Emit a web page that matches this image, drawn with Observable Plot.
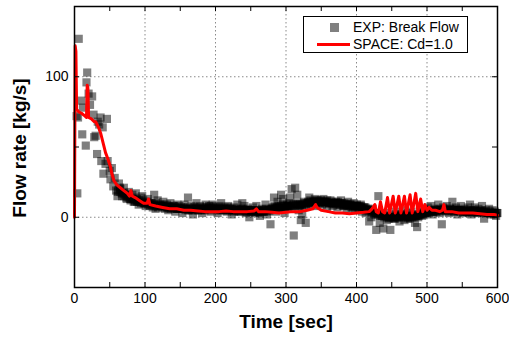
<!DOCTYPE html>
<html>
<head>
<meta charset="utf-8">
<script src="https://cdn.jsdelivr.net/npm/d3@7"></script>
<script src="https://cdn.jsdelivr.net/npm/@observablehq/plot@0.6"></script>
<style>
  html, body { margin: 0; padding: 0; background: #fff; }
  #wrap { position: relative; width: 509px; height: 342px; font-family: "Liberation Sans", Arial, sans-serif; }
  #legend { position: absolute; left: 303px; top: 16px; width: 163px; height: 35px; border: 1px solid #000; background: #fff; font-size: 14px; color: #000; }
  .row { position: absolute; left: 0; height: 18px; line-height: 18px; white-space: nowrap; }
  .sw-sq { position: absolute; left: 26px; top: 5px; width: 9px; height: 9px; background: #808080; }
  .sw-ln { position: absolute; left: 13px; top: 8px; width: 33px; height: 3px; background: #ff0000; }
  .lab { position: absolute; left: 49px; top: 0; }
  #ytitle { position: absolute; left: 19px; top: 148px; transform: translate(-50%, -50%) rotate(-90deg); white-space: nowrap; font-weight: bold; font-size: 19px; line-height: 1; color: #000; }
</style>
</head>
<body>
<div id="wrap"></div>
<script>
// ---- data ----
// EXP: Break Flow — scattered measurements
const expT = [3,4,5,6,10,11,12,16,17,18,20,22,25,27,28,30,32,33,35,37,38,40,41,44,46,47,50,51,53,55,57,59,61,63,65,67,70,72,74,77,79,82,84,87,89,91,94,96,99,
101,104,106,108,111,113,115,118,120,123,126,128,131,133,136,138,141,143,146,148,151,153,156,158,161,163,166,168,171,173,176,178,181,183,186,188,191,193,196,198,
201,203,206,208,211,213,216,218,221,223,226,228,231,233,236,238,241,243,246,248,251,253,256,258,261,263,266,268,271,273,276,278,281,283,286,288,291,293,296,298,
301,303,306,308,311,313,316,318,321,323,326,328,331,333,336,338,341,343,346,348,351,353,356,358,361,363,366,368,371,373,376,378,381,383,386,388,391,393,396,398,
401,403,406,408,411,413,416,418,421,423,426,428,431,433,436,438,441,443,446,448,451,453,456,458,461,463,466,468,471,473,476,478,481,483,486,488,491,493,496,498,
501,503,506,508,511,513,516,518,521,523,526,528,531,533,536,538,541,543,546,548,551,553,556,558,561,563,566,568,571,573,576,578,581,583,586,588,591,593,596,598,600];
const expV = [72,17,71,127,83,59,78,51,96,103,88,80,86,73,57,58,45,68,66,71,40,64,31,38,70,40,33,27,35,22,28,19,15,24,20,17,21,16,13,18,13,16,11,17,12,9,14,15,10,
8,13,10,10,7,16,6,12,9,8,11,6,9,5,10,7,8,4,9,6,7,3,9,6,14,5,8,2,7,10,5,8,3,7,9,5,8,4,9,6,
7,3,8,10,5,7,4,8,6,2,7,5,9,4,6,10,8,3,6,0,5,7,3,8,5,1,6,4,9,2,5,-5,7,14,4,11,6,16,13,3,
9,7,14,20,-13,21,16,5,-2,2,8,-4,10,14,9,11,13,8,12,10,9,13,11,7,10,12,8,10,11,7,9,12,8,10,6,11,9,7,10,5,
8,6,9,4,7,3,5,-3,0,6,2,-9,15,-4,1,-8,3,-2,0,-9,2,-1,4,0,-3,2,5,-2,1,3,-1,4,0,-4,-7,2,4,1,6,3,
7,5,8,2,6,4,9,3,-5,7,5,8,3,6,11,4,7,2,5,8,3,6,4,7,9,2,5,7,3,6,4,8,-1,5,3,6,2,5,4,1,3];
// EXP: additional measurements in the dense band, [time, flow]
const expBand = [
[61.5,18],[64.5,21],[67.5,15],[70.5,17],[73.5,14],[76.5,16],[79.5,12],[82.5,14],[85.5,11],[88.5,13],[91.5,12],[94.5,10],[97.5,12],
[100.5,10],[103.5,11],[106.5,8],[109.5,10],[112.5,9],[115.5,10],[118.5,7],[121.5,9],[124.5,8],[127.5,9],[130.5,7],[133.5,8],[136.5,6],[139.5,8],
[142.5,7],[145.5,6],[148.5,8],[151.5,6],[154.5,7],[157.5,5],[160.5,7],[163.5,6],[166.5,5],[169.5,7],[172.5,6],[175.5,5],[178.5,7],[181.5,6],
[184.5,5],[187.5,7],[190.5,6],[193.5,8],[196.5,7],[199.5,5],[202.5,6],[205.5,7],[208.5,5],[211.5,6],[214.5,5],[217.5,7],[220.5,5],[223.5,6],
[226.5,4],[229.5,6],[232.5,5],[235.5,4],[238.5,6],[241.5,5],[244.5,4],[247.5,5],[250.5,4],[253.5,5],[256.5,4],[259.5,5],[262.5,3],[265.5,5],
[268.5,4],[271.5,6],[274.5,4],[277.5,5],[280.5,6],[283.5,8],[286.5,6],[289.5,8],[292.5,7],[295.5,9],[298.5,6],[301.5,8],[304.5,10],[307.5,7],
[310.5,9],[313.5,8],[316.5,10],[319.5,8],[322.5,9],[325.5,11],[328.5,9],[331.5,11],[334.5,12],[337.5,10],[340.5,11],[343.5,12],[346.5,10],
[349.5,12],[352.5,11],[355.5,10],[358.5,12],[361.5,10],[364.5,11],[367.5,9],[370.5,10],[373.5,11],[376.5,9],[379.5,10],[382.5,8],[385.5,9],
[388.5,8],[391.5,9],[394.5,7],[397.5,8],[400.5,9],[403.5,7],[406.5,8],[409.5,6],[412.5,7],[415.5,5],[418.5,4],[421.5,5],[424.5,3],[427.5,2],
[430.5,3],[433.5,1],[436.5,2],[439.5,0],[442.5,1],[445.5,-1],[448.5,1],[451.5,0],[454.5,-1],[457.5,1],[460.5,0],[463.5,2],[466.5,0],[469.5,1],
[472.5,-1],[475.5,1],[478.5,0],[481.5,2],[484.5,1],[487.5,0],[490.5,2],[493.5,3],[496.5,2],[499.5,4],[502.5,3],[505.5,5],[508.5,4],[511.5,5],
[514.5,4],[517.5,6],[520.5,5],[523.5,6],[526.5,4],[529.5,5],[532.5,6],[535.5,5],[538.5,4],[541.5,6],[544.5,5],[547.5,4],[550.5,5],[553.5,4],
[556.5,5],[559.5,3],[562.5,5],[565.5,4],[568.5,5],[571.5,3],[574.5,4],[577.5,5],[580.5,3],[583.5,4],[586.5,3],[589.5,4],[592.5,3],[595.5,2],[598.5,3]];
// EXP: further measurements along the band core, [time, flow]
const expCore = [
[62,19],[65,18],[68,17],[71,15],[74,15],[77,14],[80,13],[83,13],[86,12],[89,11],[92,11],[95,11],[98,10],[101,10],[104,9],[107,9],[110,9],
[113,8],[116,8],[119,8],[122,8],[125,7],[128,8],[131,7],[134,7],[137,7],[140,6],[143,7],[146,6],[149,6],[152,6],[155,6],[158,6],[161,5],
[164,6],[167,6],[170,5],[173,6],[176,6],[179,5],[182,6],[185,6],[188,6],[191,7],[194,6],[197,6],[200,6],[203,6],[206,5],[209,6],[212,6],
[215,6],[218,5],[221,6],[224,5],[227,5],[230,5],[233,5],[236,5],[239,5],[242,5],[245,4],[248,5],[251,5],[254,4],[257,4],[260,4],[263,4],
[266,4],[269,5],[272,5],[275,5],[278,6],[281,6],[284,7],[287,7],[290,7],[293,8],[296,7],[299,8],[302,8],[305,8],[308,8],[311,9],[314,9],
[317,9],[320,9],[323,9],[326,10],[329,10],[332,10],[335,11],[338,11],[341,11],[344,11],[347,11],[350,11],[353,11],[356,11],[359,11],[362,10],
[365,10],[368,10],[371,10],[374,10],[377,10],[380,9],[383,9],[386,9],[389,9],[392,8],[395,8],[398,8],[401,8],[404,8],[407,7],[410,7],[413,6],
[416,6],[419,5],[422,4],[425,3],[428,3],[431,2],[434,2],[437,1],[440,1],[443,0],[446,0],[449,0],[452,0],[455,0],[458,0],[461,1],[464,1],
[467,1],[470,0],[473,0],[476,0],[479,1],[482,1],[485,1],[488,1],[491,2],[494,2],[497,3],[500,3],[503,4],[506,4],[509,4],[512,5],[515,5],
[518,5],[521,5],[524,5],[527,5],[530,5],[533,5],[536,5],[539,5],[542,5],[545,5],[548,5],[551,4],[554,4],[557,4],[560,4],[563,4],[566,4],
[569,4],[572,4],[575,4],[578,4],[581,4],[584,3],[587,3],[590,3],[593,3],[596,3],[599,3]];

// SPACE: Cd=1.0 — calculation
const spaceT = [0,1,2,3,6,10,15,17,18,19,20,24,28,30,34,37,41,44,47,51,53,56,60,65,70,75,78,80,82,86,92,98,103,105,107,115,125,135,145,155,165,175,185,195,205,215,225,235,245,255,258,261,270,280,290,300,310,320,330,338,342,344,350,360,370,380,390,400,410,418,422,426,428,431,434,437,440,444,447,452,455,460,463,468,471,476,479,484,487,491,494,497,500,503,507,512,518,522,524,526,535,545,555,565,575,585,595,600];
const spaceV = [0,122,118,77,75,74,72,71,94,92,71,70,68,68,64,60,52,46,42,36,31,26,23,21,19,17,15,19,15,14,12,10,10,13,9,8,7,6,6,5,5,4.5,4,4,4,4.5,4,4,4,4.5,6,4,4,3.5,3,3.5,4,4,5,6,9,7,5,4,3,3,2.5,3,3.5,4,6,9,4,3,11,4,3,14,3,15,3,15,3,15,3,16,3,17,4,13,4,9,5,7,5,5,4,5,9,4,4,3,3,3,2.5,2,2,1.5];

const xLabelTicks = [0,100,200,300,400,500,600];
const xMinorTicks = [0,50,100,150,200,250,300,350,400,450,500,550,600];
const xGrid = [100,200,300,400,500];
const yLabelTicks = [0,100];
const yMinorTicks = [-50,0,50,100,150];
const yGrid = [0,100];

const expData = expT.map((t, i) => ({t, v: expV[i]}))
  .concat(expBand.map(([t, v]) => ({t, v})))
  .concat(expCore.map(([t, v]) => ({t, v})))
  .sort((a, b) => a.t - b.t);
const spaceData = spaceT.map((t, i) => ({t, v: spaceV[i]}));

const W = 509, H = 342;
const mL = 74, mR = 12, mT = 6, mB = 55;
const innerW = W - mL - mR, innerH = H - mT - mB;
const tickLen = 5;
const gridStyle = {stroke: "#8a8a8a", strokeOpacity: 1, strokeWidth: 1, strokeDasharray: "1.5,2.5"};

const chart = Plot.plot({
  width: W, height: H,
  marginLeft: mL, marginRight: mR, marginTop: mT, marginBottom: mB,
  style: {fontFamily: "'Liberation Sans', Arial, sans-serif", fontSize: "14px", color: "#000", background: "#fff"},
  x: {domain: [0, 600]},
  y: {domain: [-50, 150]},
  marks: [
    Plot.gridX(xGrid, gridStyle),
    Plot.gridY(yGrid, gridStyle),
    Plot.dot(expData, {x: "t", y: "v", symbol: "square", r: 4.6, fill: "#000", fillOpacity: 0.5, stroke: "none"}),
    Plot.line(spaceData, {x: "t", y: "v", stroke: "#ff0000", strokeWidth: 3, strokeLinejoin: "round"}),
    Plot.tickX(xMinorTicks, {x: d => d, insetTop: innerH - tickLen, stroke: "#000", strokeWidth: 1}),
    Plot.tickX(xMinorTicks, {x: d => d, insetBottom: innerH - tickLen, stroke: "#000", strokeWidth: 1}),
    Plot.tickY(yMinorTicks, {y: d => d, insetRight: innerW - tickLen, stroke: "#000", strokeWidth: 1}),
    Plot.tickY(yMinorTicks, {y: d => d, insetLeft: innerW - tickLen, stroke: "#000", strokeWidth: 1}),
    Plot.axisX(xLabelTicks, {tickSize: 0, tickPadding: 6, fontSize: 14, label: null}),
    Plot.axisY(yLabelTicks, {tickSize: 0, tickPadding: 6, fontSize: 14, label: null}),
    Plot.frame({stroke: "#000", strokeWidth: 1.5}),
    Plot.text(["Time [sec]"], {frameAnchor: "bottom", dy: 40, fontWeight: "bold", fontSize: 19, fill: "#000"})
  ]
});

const wrap = document.getElementById("wrap");
wrap.appendChild(chart);

const ytitle = document.createElement("div");
ytitle.id = "ytitle";
ytitle.textContent = "Flow rate [kg/s]";
wrap.appendChild(ytitle);

const legend = document.createElement("div");
legend.id = "legend";
legend.innerHTML =
  '<div class="row" style="top:1px"><span class="sw-sq"></span><span class="lab">EXP: Break Flow</span></div>' +
  '<div class="row" style="top:18px"><span class="sw-ln"></span><span class="lab">SPACE: Cd=1.0</span></div>';
wrap.appendChild(legend);
</script>
</body>
</html>
